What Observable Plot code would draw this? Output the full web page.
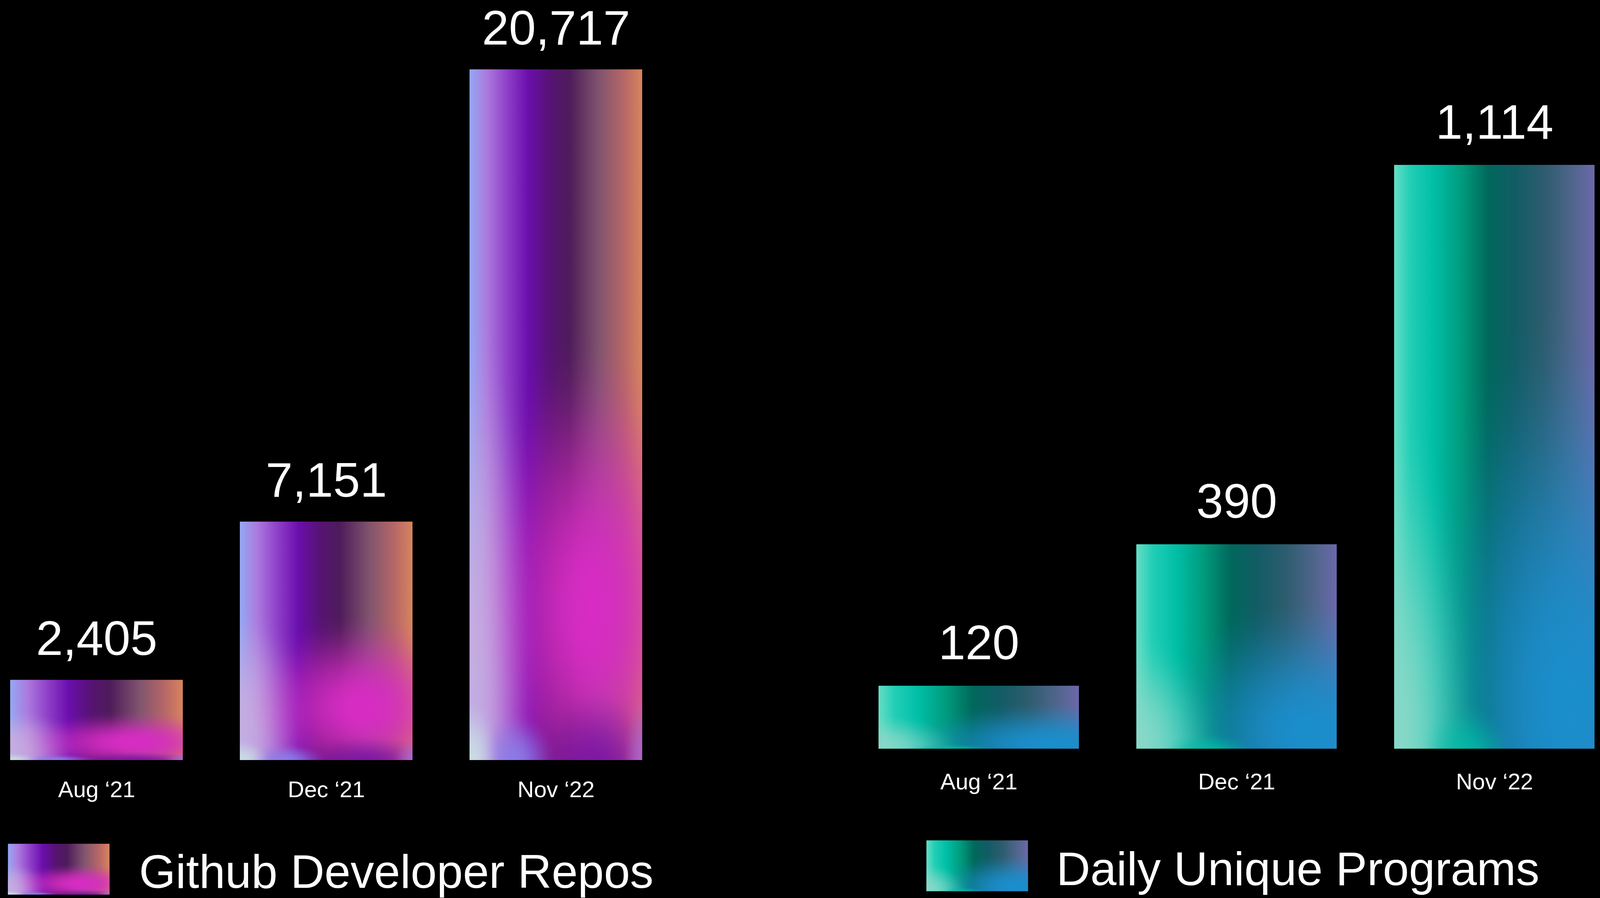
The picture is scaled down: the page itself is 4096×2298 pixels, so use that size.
<!DOCTYPE html>
<html>
<head>
<meta charset="utf-8">
<script src="https://cdn.jsdelivr.net/npm/d3@7"></script>
<script src="https://cdn.jsdelivr.net/npm/@observablehq/plot@0.6"></script>
<style>
  html, body { margin: 0; padding: 0; background: #000; }
  body { width: 4096px; height: 2298px; overflow: hidden; position: relative;
         font-family: "Liberation Sans", Arial, sans-serif; color: #fff; }
  .chart { position: absolute; top: 0; }
  #legend { position: absolute; left: 0; top: 0; }
</style>
</head>
<body>
<script>
// ---------- data ----------
const months = ["Aug \u201821", "Dec \u201821", "Nov \u201822"];
const githubRepos = [2405, 7151, 20717];
const dailyPrograms = [120, 390, 1114];
const seriesNames = ["Github Developer Repos", "Daily Unique Programs"];

// ---------- layout (reference px, scaled by S) ----------
const S = 0.97;
const FONT = '"Liberation Sans", Arial, sans-serif';
const fmt = d3.format(",");

// ---------- gradient definitions (styles) ----------
const defsSvg = d3.select("body").append("svg")
  .attr("width", 0).attr("height", 0)
  .style("position", "absolute").style("left", 0).style("top", 0);
const defs = defsSvg.append("defs");

function linear(id, stops) {
  const g = defs.append("linearGradient").attr("id", id)
    .attr("x1", 0).attr("y1", 0).attr("x2", 1).attr("y2", 0);
  stops.forEach(([o, c, a = 1]) => g.append("stop").attr("offset", o).attr("stop-color", c).attr("stop-opacity", a));
}
// soft elliptical glow in bounding-box units, eased fall-off
function glow(id, cx, cy, rx, ry, color, a0) {
  const g = defs.append("radialGradient").attr("id", id)
    .attr("cx", 0).attr("cy", 0).attr("r", 1)
    .attr("gradientTransform", `translate(${cx},${cy}) scale(${rx},${ry})`);
  for (let i = 0; i <= 12; i++) {
    const t = i / 12;
    const a = a0 * Math.pow(1 - t * t, 2);
    g.append("stop").attr("offset", t).attr("stop-color", color).attr("stop-opacity", a.toFixed(3));
  }
}

// purple mesh
linear("pBase", [
  [0, "#94a8f4"], [0.1, "#ac7ade"], [0.22, "#8e3ec8"], [0.34, "#6a0eac"],
  [0.47, "#561372"], [0.58, "#4e1c5a"], [0.75, "#80546e"], [0.9, "#b86866"], [1, "#d8845e"]
]);
glow("pLeft", 0.0, 0.84, 0.42, 0.48, "#c6aee0", 0.95);
glow("pMag", 0.7, 0.78, 0.7, 0.4, "#d82cc4", 1);
glow("pBot", 0.74, 1.02, 0.42, 0.13, "#7612a4", 0.9);
glow("pBotR", 1.02, 1.0, 0.14, 0.1, "#a86ad8", 0.85);
glow("pBotL", 0.27, 1.0, 0.24, 0.07, "#8a82ea", 0.85);
glow("pCorner", 0.0, 1.0, 0.18, 0.09, "#cadce4", 1);

// teal mesh
linear("tBase", [
  [0, "#66dec6"], [0.08, "#22ceb6"], [0.2, "#00bea6"], [0.34, "#009a7c"],
  [0.47, "#00685c"], [0.6, "#115c64"], [0.75, "#2e5c6e"], [0.9, "#52668e"], [1, "#6c68aa"]
]);
glow("tBlue", 0.86, 0.92, 0.8, 0.68, "#1a8ecc", 1);
glow("tLeft", 0.0, 0.98, 0.42, 0.55, "#8ad8c8", 0.95);
glow("tBotTeal", 0.36, 1.02, 0.24, 0.1, "#00c0a8", 0.8);

const purpleLayers = ["pBase", "pLeft", "pMag", "pBot", "pBotR", "pBotL", "pCorner"];
const tealLayers = ["tBase", "tBlue", "tLeft", "tBotTeal"];

// ---------- chart builder ----------
function barChart({values, left, width, height, ml, mr, mt, mb, padInner, layers, labelDy, tickPad}) {
  const data = months.map((m, i) => ({month: m, value: values[i]}));
  const chart = Plot.plot({
    width: width * S, height: height * S,
    marginLeft: ml * S, marginRight: mr * S, marginTop: mt * S, marginBottom: mb * S,
    style: {background: "transparent", color: "#fff", fontFamily: FONT, fontSize: `${60 * S}px`},
    x: {domain: months, paddingInner: padInner, paddingOuter: 0, label: null, tickSize: 0, tickPadding: tickPad * S},
    y: {domain: [0, d3.max(values)], axis: null},
    marks: [
      ...layers.map(id => Plot.barY(data, {x: "month", y: "value", fill: `url(#${id})`})),
      Plot.text(data, {
        x: "month", y: "value", text: d => fmt(d.value),
        dy: labelDy * S, lineAnchor: "bottom", textAnchor: "middle",
        fontSize: 128 * S, fill: "#fff", fontFamily: FONT
      })
    ]
  });
  chart.classList.add("chart");
  chart.style.left = `${left * S}px`;
  document.body.appendChild(chart);
  return chart;
}

barChart({values: githubRepos, left: 0, width: 2100, height: 2160,
  ml: 26, mr: 2100 - 1695, mt: 183, mb: 2160 - 2005, padInner: 0.248,
  layers: purpleLayers, labelDy: -66, tickPad: 55});

barChart({values: dailyPrograms, left: 2200, width: 2021, height: 2160,
  ml: 2318 - 2200, mr: 2021 - (4209 - 2200), mt: 435, mb: 2160 - 1975, padInner: 0.222,
  layers: tealLayers, labelDy: -70, tickPad: 64});

// ---------- legend ----------
const legend = d3.select("body").append("svg").attr("id", "legend")
  .attr("width", 4096).attr("height", 2298);
const legendItems = [
  {name: seriesNames[0], layers: purpleLayers, sx: 21, sy: 2226, tx: 367, ty: 2342},
  {name: seriesNames[1], layers: tealLayers, sx: 2445, sy: 2217, tx: 2788, ty: 2335}
];
legendItems.forEach(it => {
  it.layers.forEach(id => legend.append("rect")
    .attr("x", it.sx * S).attr("y", it.sy * S).attr("width", 268 * S).attr("height", 134 * S)
    .attr("fill", `url(#${id})`));
  legend.append("text").attr("x", it.tx * S).attr("y", it.ty * S)
    .attr("fill", "#fff").attr("font-family", FONT).attr("font-size", 124 * S)
    .text(it.name);
});
</script>
</body>
</html>
